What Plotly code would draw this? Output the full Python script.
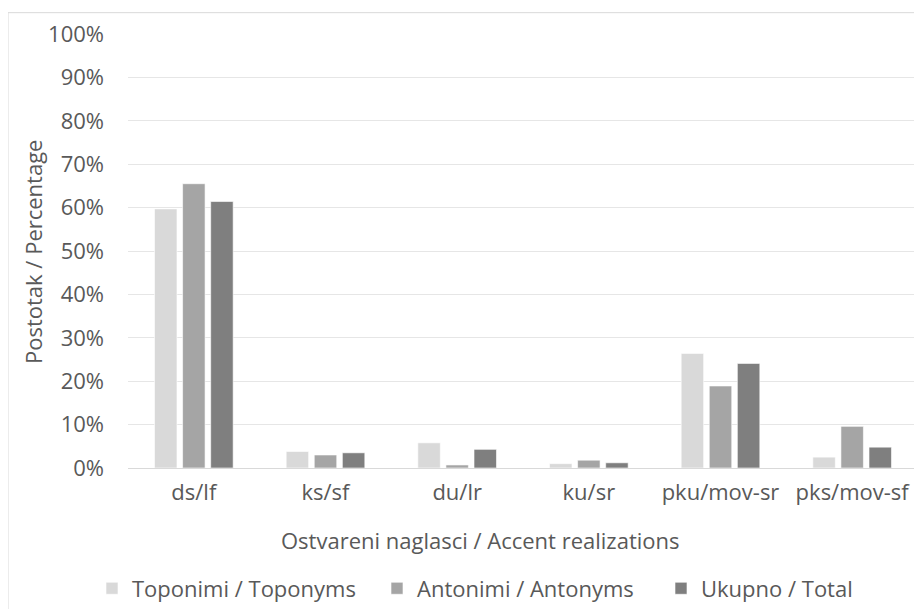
import plotly.graph_objects as go

categories = ["ds/lf", "ks/sf", "du/lr", "ku/sr", "pku/mov-sr", "pks/mov-sf"]
toponimi = [59.7, 3.8, 5.8, 1.0, 26.4, 2.5]
antonimi = [65.5, 3.0, 0.7, 1.8, 18.9, 9.6]
ukupno = [61.4, 3.5, 4.3, 1.2, 24.1, 4.8]
y_ticks = [0, 10, 20, 30, 40, 50, 60, 70, 80, 90, 100]
y_tick_labels = [f"{v}%" for v in y_ticks]

series = [
    ("Toponimi / Toponyms", toponimi, "#D9D9D9"),
    ("Antonimi / Antonyms", antonimi, "#A5A5A5"),
    ("Ukupno / Total", ukupno, "#7F7F7F"),
]

FONT = "Open Sans"
TXT = "#595959"
FS = 22

# page has an 8px body margin, so figure is drawn 8px in from the window edge
OFF = 8
W, H = 922 - OFF, 609 - OFF
PL, PR, PT, PB = 128, 918, 34.3, 467.7   # plot area in window pixels
ml, mt = PL - OFF, PT - OFF
mr = W - (PR - OFF)
mb = H - (PB - OFF)
ph = PB - PT
pw = PR - PL

def px(xw):
    return (xw - PL) / pw

def py(yw):
    return (PB - yw) / ph

legend_ids = ["legend", "legend2", "legend3"]
legend_square_x = [107, 392, 676]

fig = go.Figure()
for (name, vals, col), lid in zip(series, legend_ids):
    fig.add_trace(go.Bar(
        x=categories, y=vals, name=name, legend=lid,
        marker=dict(color=col, line=dict(color="#FFFFFF", width=0.6)),
    ))

legend_layout = {}
for lid, sx in zip(legend_ids, legend_square_x):
    legend_layout[lid] = dict(
        orientation="h", x=px(sx - 15), xanchor="left", y=py(588), yanchor="middle",
        font=dict(family=FONT, size=FS, color=TXT),
        itemwidth=30, bgcolor="rgba(0,0,0,0)",
    )

fig.update_layout(
    width=W, height=H,
    margin=dict(l=ml, r=mr, t=mt, b=mb, autoexpand=False),
    paper_bgcolor="white", plot_bgcolor="white",
    barmode="group", bargap=0.36, bargroupgap=0.2,
    font=dict(family=FONT, color=TXT, size=FS),
    showlegend=True,
    xaxis=dict(showgrid=False, showline=True, linecolor="#D9D9D9", linewidth=1,
               ticks="", tickfont=dict(family=FONT, size=FS, color=TXT),
               ticklabelstandoff=5),
    yaxis=dict(range=[0, 100], tickvals=y_ticks, ticktext=y_tick_labels,
               showgrid=True, gridcolor="#E6E6E6", gridwidth=1,
               zeroline=False, showline=False, ticks="",
               tickfont=dict(family=FONT, size=FS, color=TXT),
               ticklabelstandoff=23),
    annotations=[
        dict(text="Ostvareni naglasci / Accent realizations", xref="paper", yref="paper",
             x=px(480), y=py(540), xanchor="center", yanchor="middle",
             showarrow=False, font=dict(family=FONT, size=FS, color=TXT)),
        dict(text="Postotak / Percentage", xref="paper", yref="paper",
             x=px(33), y=py(252), xanchor="center", yanchor="middle",
             textangle=-90, showarrow=False, font=dict(family=FONT, size=FS, color=TXT)),
    ],
    shapes=[
        dict(type="line", xref="paper", yref="paper", x0=px(8), x1=1.2,
             y0=py(13), y1=py(13), line=dict(color="#D9D9D9", width=1)),
        dict(type="line", xref="paper", yref="paper", x0=px(8), x1=px(8),
             y0=py(13), y1=-0.5, line=dict(color="#D9D9D9", width=1)),
    ],
    **legend_layout,
)

fig.write_html("out.html")
